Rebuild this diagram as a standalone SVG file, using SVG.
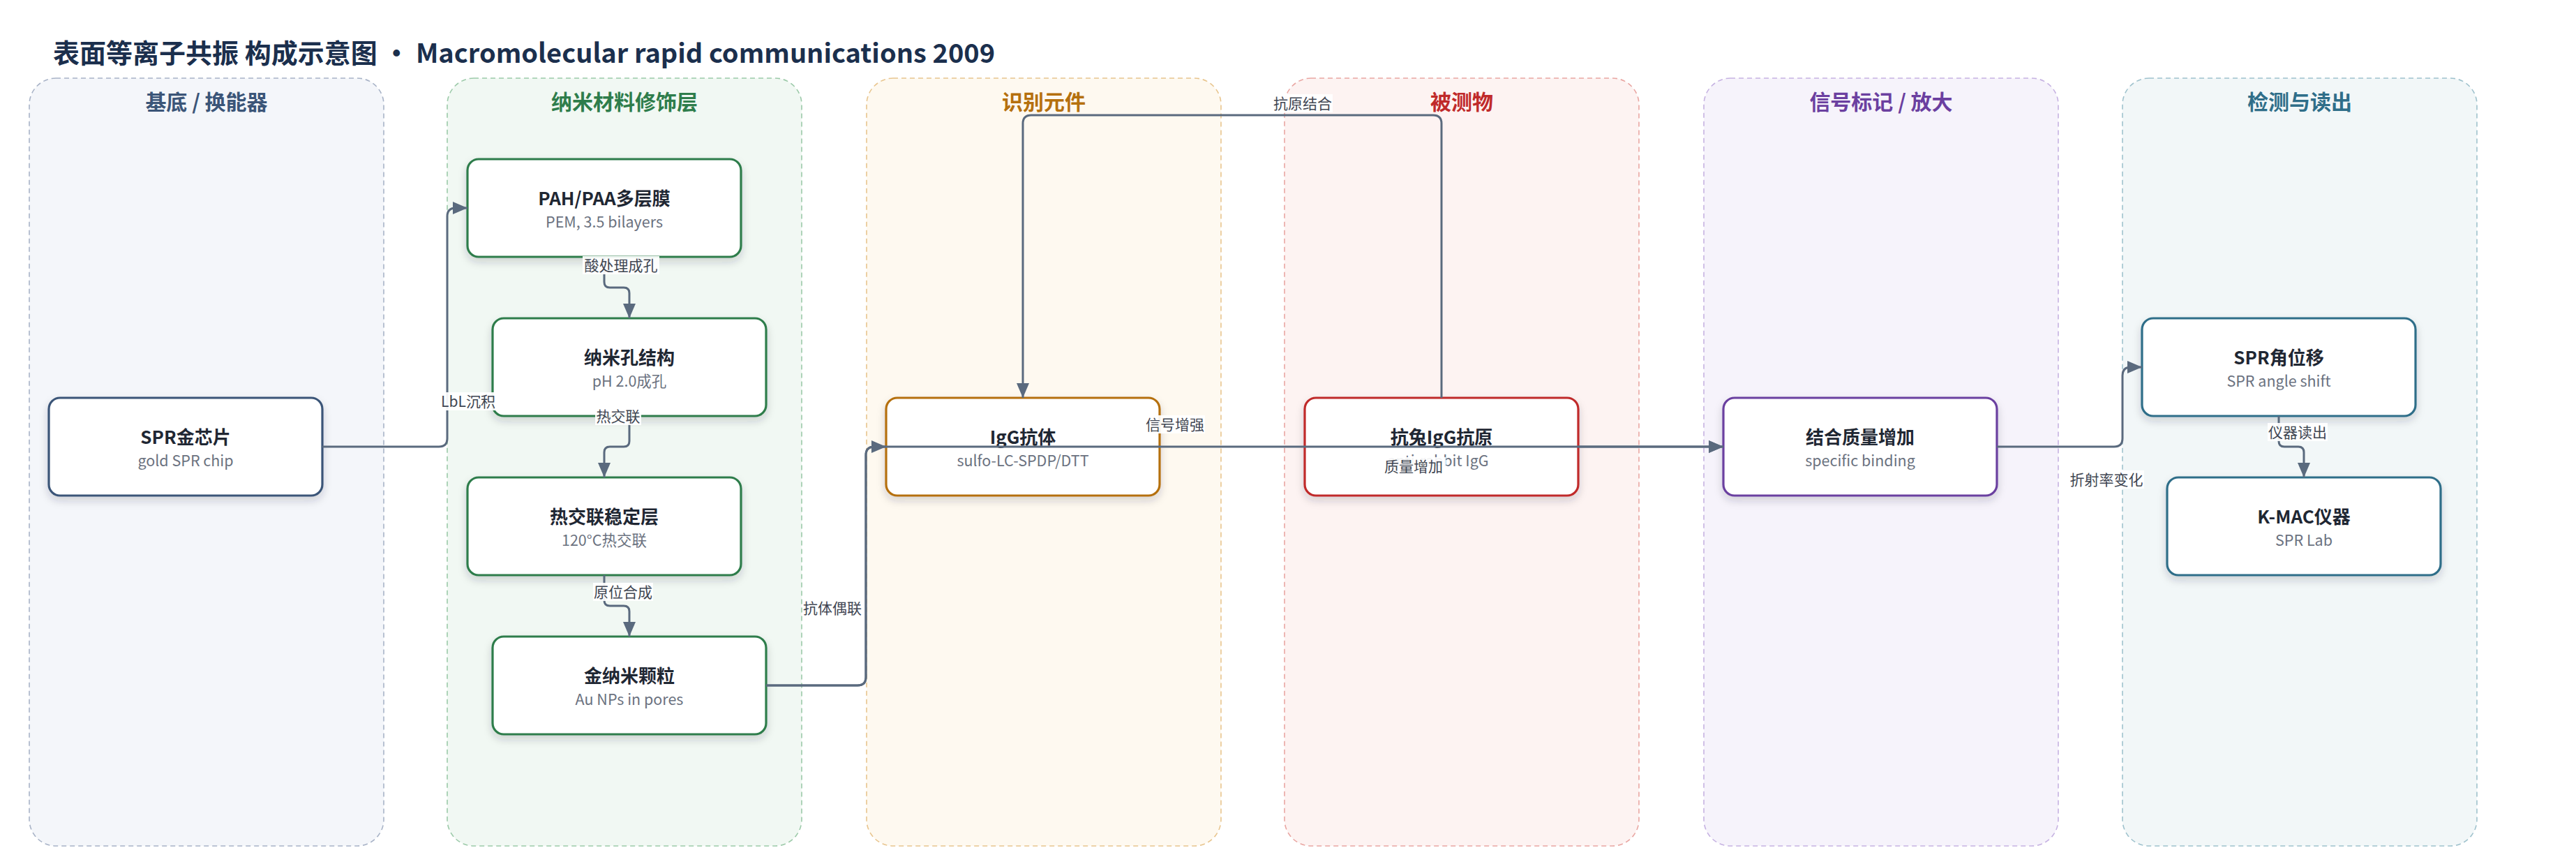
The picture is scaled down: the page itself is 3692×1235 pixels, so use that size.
<svg xmlns="http://www.w3.org/2000/svg" width="3692" height="1235" viewBox="0 0 3692 1235">
<style>
text{font-family:"Noto Sans CJK SC","Noto Sans",sans-serif}
.ttl{font-size:38px;font-weight:700;fill:#1b2f4d}
.lane{stroke-width:1.6;stroke-dasharray:7 5}
.lh{font-size:30px;font-weight:700;text-anchor:middle}
.box{fill:#fff;stroke-width:3.2;filter:url(#sh)}
.nt{font-size:26px;font-weight:700;fill:#1f2733;text-anchor:middle}
.ns{font-size:21.5px;fill:#6b7280;text-anchor:middle}
.edge{fill:none;stroke:#5a6a7e;stroke-width:3;marker-end:url(#ah)}
.lb{font-size:21px;fill:#3f4652;text-anchor:middle}
.lbg{fill:#fff;opacity:.92}
</style>
<defs>
<filter id="sh" x="-10%" y="-10%" width="120%" height="140%">
<feDropShadow dx="0" dy="6" stdDeviation="6" flood-color="#1e293b" flood-opacity="0.18"/>
</filter>
<marker id="ah" markerUnits="userSpaceOnUse" markerWidth="22" markerHeight="20" refX="21" refY="10" orient="auto">
<path d="M0,1 L21,10 L0,19 Z" fill="#5a6a7e"/>
</marker>
</defs>
<rect width="3692" height="1235" fill="#fff"/>
<text class="ttl" x="76" y="90">表面等离子共振 构成示意图 • Macromolecular rapid communications 2009</text>

<g id="lanes">
<rect class="lane" x="42" y="112" width="508" height="1100" rx="38" fill="#f4f6fa" stroke="#a8b3c7"/>
<text class="lh" x="296" y="157" fill="#3b5578">基底 / 换能器</text>
<rect class="lane" x="641" y="112" width="508" height="1100" rx="38" fill="#f1f8f3" stroke="#9ccaa9"/>
<text class="lh" x="895" y="157" fill="#2e7d4b">纳米材料修饰层</text>
<rect class="lane" x="1242" y="112" width="508" height="1100" rx="38" fill="#fef9f0" stroke="#e8c58e"/>
<text class="lh" x="1496" y="157" fill="#b5700e">识别元件</text>
<rect class="lane" x="1841" y="112" width="508" height="1100" rx="38" fill="#fdf3f2" stroke="#e9a6a2"/>
<text class="lh" x="2095" y="157" fill="#c02a2a">被测物</text>
<rect class="lane" x="2442" y="112" width="508" height="1100" rx="38" fill="#f6f3fb" stroke="#c6b2e2"/>
<text class="lh" x="2696" y="157" fill="#6b3fa0">信号标记 / 放大</text>
<rect class="lane" x="3042" y="112" width="508" height="1100" rx="38" fill="#f2f7f8" stroke="#9fc2cd"/>
<text class="lh" x="3296" y="157" fill="#2f6e89">检测与读出</text>
</g>

<g id="n_chip"><rect class="box" x="70" y="570" width="392" height="140" rx="16" stroke="#3b5578"/><text class="nt" x="266" y="636">SPR金芯片</text><text class="ns" x="266" y="668">gold SPR chip</text></g>
<g id="n_pem"><rect class="box" x="670" y="228" width="392" height="140" rx="16" stroke="#2e7d4b"/><text class="nt" x="866" y="294">PAH/PAA多层膜</text><text class="ns" x="866" y="326">PEM, 3.5 bilayers</text></g>
<g id="n_pore"><rect class="box" x="706" y="456" width="392" height="140" rx="16" stroke="#2e7d4b"/><text class="nt" x="902" y="522">纳米孔结构</text><text class="ns" x="902" y="554">pH 2.0成孔</text></g>
<g id="n_cross"><rect class="box" x="670" y="684" width="392" height="140" rx="16" stroke="#2e7d4b"/><text class="nt" x="866" y="750">热交联稳定层</text><text class="ns" x="866" y="782">120°C热交联</text></g>
<g id="n_aunp"><rect class="box" x="706" y="912" width="392" height="140" rx="16" stroke="#2e7d4b"/><text class="nt" x="902" y="978">金纳米颗粒</text><text class="ns" x="902" y="1010">Au NPs in pores</text></g>
<g id="n_igg"><rect class="box" x="1270" y="570" width="392" height="140" rx="16" stroke="#b5700e"/><text class="nt" x="1466" y="636">IgG抗体</text><text class="ns" x="1466" y="668">sulfo-LC-SPDP/DTT</text></g>
<g id="n_antigen"><rect class="box" x="1870" y="570" width="392" height="140" rx="16" stroke="#c02a2a"/><text class="nt" x="2066" y="636">抗兔IgG抗原</text><text class="ns" x="2061" y="668">anti-rabbit IgG</text></g>
<g id="n_bind"><rect class="box" x="2470" y="570" width="392" height="140" rx="16" stroke="#6b3fa0"/><text class="nt" x="2666" y="636">结合质量增加</text><text class="ns" x="2666" y="668">specific binding</text></g>
<g id="n_shift"><rect class="box" x="3070" y="456" width="392" height="140" rx="16" stroke="#2f6e89"/><text class="nt" x="3266" y="522">SPR角位移</text><text class="ns" x="3266" y="554">SPR angle shift</text></g>
<g id="n_kmac"><rect class="box" x="3106" y="684" width="392" height="140" rx="16" stroke="#2f6e89"/><text class="nt" x="3302" y="750">K-MAC仪器</text><text class="ns" x="3302" y="782">SPR Lab</text></g>

<g id="connectors">
<path class="edge" d="M462,640 H629 Q641,640 641,628 V310 Q641,298 653,298 H670"/>
<path class="edge" d="M866,368 V404 Q866,412 874,412 H894 Q902,412 902,420 V456"/>
<path class="edge" d="M902,596 V632 Q902,640 894,640 H874 Q866,640 866,648 V684"/>
<path class="edge" d="M866,824 V860 Q866,868 874,868 H894 Q902,868 902,876 V912"/>
<path class="edge" d="M1098,982 H1229 Q1241,982 1241,970 V652 Q1241,640 1253,640 H1270"/>
<path class="edge" d="M1098,982 H1229 Q1241,982 1241,970 V652 Q1241,640 1253,640 H2470"/>
<path class="edge" d="M2066,570 V177 Q2066,165 2054,165 H1478 Q1466,165 1466,177 V570"/>
<path class="edge" d="M2262,640 H2470"/>
<path class="edge" d="M2862,640 H3030 Q3042,640 3042,628 V538 Q3042,526 3054,526 H3070"/>
<path class="edge" d="M3266,596 V632 Q3266,640 3274,640 H3294 Q3302,640 3302,648 V684"/>
<g id="labels">
<rect class="lbg" x="631" y="562" width="80" height="26"/><text class="lb" x="671" y="583">LbL沉积</text>
<rect class="lbg" x="835" y="367" width="110" height="26"/><text class="lb" x="890" y="388">酸处理成孔</text>
<rect class="lbg" x="853" y="583" width="66" height="26"/><text class="lb" x="886" y="604">热交联</text>
<rect class="lbg" x="850" y="835" width="86" height="26"/><text class="lb" x="893" y="856">原位合成</text>
<rect class="lbg" x="1150" y="858" width="86" height="26"/><text class="lb" x="1193" y="879">抗体偶联</text>
<rect class="lbg" x="1824" y="135" width="86" height="26"/><text class="lb" x="1867" y="156">抗原结合</text>
<rect class="lbg" x="1641" y="595" width="86" height="26"/><text class="lb" x="1684" y="616">信号增强</text>
<rect class="lbg" x="1983" y="655" width="89" height="27"/><text class="lb" x="2026" y="676">质量增加</text>
<rect class="lbg" x="2965" y="674" width="108" height="26"/><text class="lb" x="3019" y="695">折射率变化</text>
<rect class="lbg" x="3250" y="606" width="86" height="26"/><text class="lb" x="3293" y="627">仪器读出</text>
</g>
</g>
</svg>
